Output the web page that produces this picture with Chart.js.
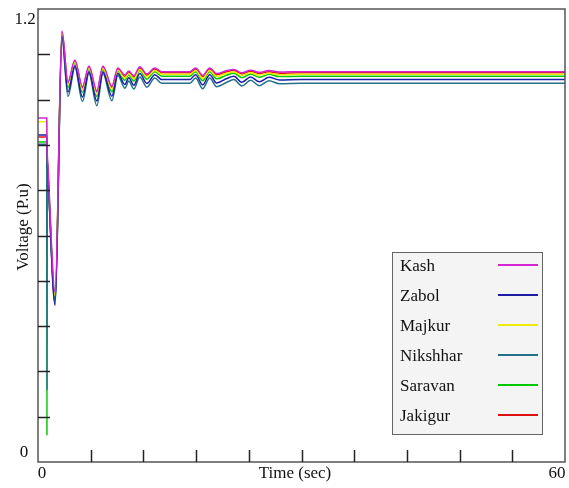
<!DOCTYPE html>
<html>
<head>
<meta charset="utf-8">
<script src="https://cdn.jsdelivr.net/npm/chart.js@4.4.1/dist/chart.umd.min.js"></script>
<style>
  body { margin: 0; background: #fff; }
  #wrap { width: 569px; height: 488px; }
</style>
</head>
<body>
<div id="wrap"><canvas id="volt" width="569" height="488"></canvas></div>
<script>
// time axis (sec), shared by all buses
const times = [0, 1.0, 1.02, 1.05, 1.12, 1.95, 2.73, 3.41, 4.20, 5.06, 5.80, 6.70, 7.39, 8.41, 9.09, 9.89, 10.34, 10.91, 11.59, 12.39, 13.30, 14.09, 17.27, 17.95, 18.75, 19.55, 20.34, 21.5, 22.3, 23.2, 24.2, 25.2, 26.3, 27.5, 30, 60]

// bus voltages (p.u.)
const kash = [0.911, 0.911, 0.85, 0.82, 0.79, 0.45, 1.142, 1.007, 1.065, 0.994, 1.049, 0.983, 1.049, 0.996, 1.044, 1.025, 1.036, 1.023, 1.047, 1.028, 1.044, 1.034, 1.034, 1.044, 1.024, 1.044, 1.029, 1.037, 1.040, 1.031, 1.038, 1.032, 1.037, 1.033, 1.034, 1.034]
const zabol = [0.866, 0.866, 0.83, 0.80, 0.77, 0.415, 1.127, 0.980, 1.050, 0.967, 1.034, 0.956, 1.034, 0.969, 1.029, 1.000, 1.018, 0.998, 1.029, 1.003, 1.026, 1.013, 1.013, 1.026, 0.999, 1.026, 1.004, 1.016, 1.022, 1.006, 1.020, 1.007, 1.019, 1.012, 1.013, 1.013]
const majkur = [0.901, 0.901, 0.84, 0.81, 0.78, 0.44, 1.136, 0.998, 1.059, 0.985, 1.043, 0.974, 1.043, 0.987, 1.038, 1.017, 1.029, 1.015, 1.040, 1.020, 1.037, 1.027, 1.027, 1.037, 1.016, 1.037, 1.021, 1.030, 1.033, 1.024, 1.031, 1.025, 1.030, 1.026, 1.027, 1.027]
const nikshhar = [0.842, 0.842, 0.19, 0.78, 0.76, 0.42, 1.122, 0.968, 1.045, 0.955, 1.029, 0.944, 1.029, 0.957, 1.024, 0.990, 1.009, 0.988, 1.020, 0.993, 1.017, 1.003, 1.003, 1.017, 0.989, 1.017, 0.994, 1.006, 1.013, 0.996, 1.011, 0.997, 1.010, 1.002, 1.003, 1.003]
const saravan = [0.848, 0.848, 0.07, 0.79, 0.77, 0.43, 1.133, 0.992, 1.056, 0.979, 1.040, 0.968, 1.040, 0.981, 1.035, 1.011, 1.026, 1.009, 1.037, 1.014, 1.034, 1.022, 1.022, 1.034, 1.010, 1.034, 1.015, 1.025, 1.030, 1.018, 1.028, 1.019, 1.027, 1.021, 1.022, 1.022]
const jakigur = [0.861, 0.861, 0.83, 0.80, 0.77, 0.43, 1.139, 1.004, 1.062, 0.991, 1.046, 0.980, 1.046, 0.993, 1.041, 1.022, 1.033, 1.020, 1.044, 1.025, 1.041, 1.031, 1.031, 1.041, 1.021, 1.041, 1.026, 1.034, 1.037, 1.028, 1.035, 1.029, 1.034, 1.030, 1.031, 1.031]

const busNames = ['Kash', 'Zabol', 'Majkur', 'Nikshhar', 'Saravan', 'Jakigur']
const busValues = [kash, zabol, majkur, nikshhar, saravan, jakigur]
const busColors = ['#d424d4', '#1c1ca6', '#f0ec00', '#23708a', '#00c800', '#e01010']

// tick marks and the few labelled ones
const xTicks = [6, 12, 18, 24, 30, 36, 42, 48, 54]
const yTicks = [0.12, 0.24, 0.36, 0.48, 0.6, 0.72, 0.84, 0.96, 1.08]
const xTickLabels = ['0', '60']
const yTickLabels = ['0', '1.2']

const datasets = busNames.map((name, i) => {
  return {
    label: name,
    data: times.map((t, k) => ({ x: t, y: busValues[i][k] })),
    borderColor: busColors[i],
    backgroundColor: busColors[i],
    borderWidth: 1.5,
    pointRadius: 0,
    cubicInterpolationMode: 'monotone',
    fill: false
  }
})

const serif = '"Liberation Serif", "DejaVu Serif", serif'

// frame, inward ticks, labels and the boxed legend
const decor = {
  id: 'decor',
  afterDatasetsDraw(chart) {
    const ctx = chart.ctx
    const a = chart.chartArea
    const xs = chart.scales.x
    const ys = chart.scales.y
    ctx.save()

    ctx.strokeStyle = '#555'
    ctx.lineWidth = 1.5
    ctx.strokeRect(a.left, a.top, a.right - a.left, a.bottom - a.top)

    ctx.strokeStyle = '#222'
    ctx.lineWidth = 1.5
    xTicks.forEach(v => {
      const px = Math.round(xs.getPixelForValue(v)) + 0.5
      ctx.beginPath()
      ctx.moveTo(px, a.bottom)
      ctx.lineTo(px, a.bottom - 12)
      ctx.stroke()
    })
    yTicks.forEach(v => {
      const py = Math.round(ys.getPixelForValue(v)) + 0.5
      ctx.beginPath()
      ctx.moveTo(a.left, py)
      ctx.lineTo(a.left + 12, py)
      ctx.stroke()
    })

    ctx.fillStyle = '#111'
    ctx.font = '17px ' + serif
    ctx.textAlign = 'center'
    ctx.textBaseline = 'middle'
    ctx.fillText(yTickLabels[0], a.left - 14, ys.getPixelForValue(0) - 9)
    ctx.fillText(yTickLabels[1], a.left - 13, ys.getPixelForValue(1.2) + 11)
    ctx.fillText(xTickLabels[0], xs.getPixelForValue(0) + 4, a.bottom + 12)
    ctx.fillText(xTickLabels[1], xs.getPixelForValue(60) - 8, a.bottom + 12)
    ctx.fillText('Time (sec)', 295, a.bottom + 12)

    ctx.save()
    ctx.translate(24, 227)
    ctx.rotate(-Math.PI / 2)
    ctx.fillText('Voltage (P.u)', 0, 0)
    ctx.restore()

    // legend box
    ctx.fillStyle = '#f4f4f4'
    ctx.fillRect(392, 252, 150, 182)
    ctx.strokeStyle = '#666'
    ctx.lineWidth = 1
    ctx.strokeRect(392.5, 252.5, 150, 182)
    ctx.textAlign = 'left'
    chart.data.datasets.forEach((ds, i) => {
      const y = 267 + i * 30
      ctx.fillStyle = '#111'
      ctx.fillText(ds.label, 400, y)
      ctx.strokeStyle = ds.borderColor
      ctx.lineWidth = 2
      ctx.beginPath()
      ctx.moveTo(498, y - 2)
      ctx.lineTo(538, y - 2)
      ctx.stroke()
    })
    ctx.restore()
  }
}

const chart = new Chart(document.getElementById('volt'), {
  type: 'line',
  data: { datasets: datasets },
  options: {
    responsive: false,
    animation: false,
    layout: { padding: { left: 38, top: 9, right: 4, bottom: 26 } },
    plugins: {
      legend: { display: false },
      tooltip: { enabled: false }
    },
    scales: {
      x: { type: 'linear', min: 0, max: 60, display: false },
      y: { type: 'linear', min: 0, max: 1.2, display: false }
    }
  },
  plugins: [decor]
})
</script>
</body>
</html>
